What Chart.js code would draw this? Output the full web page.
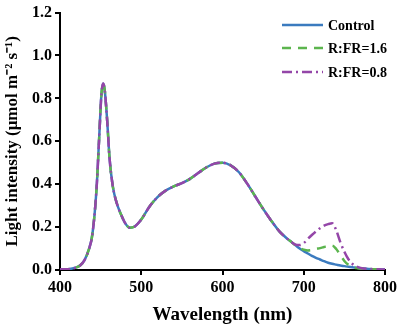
<!DOCTYPE html>
<html>
<head>
<meta charset="utf-8">
<script src="https://cdn.jsdelivr.net/npm/chart.js@4.4.1/dist/chart.umd.min.js"></script>
<style>
html,body{margin:0;padding:0;background:#fff;}
#wrap{width:400px;height:327px;position:relative;}
</style>
</head>
<body>
<div id="wrap"><canvas id="c" width="400" height="327"></canvas></div>
<script>
const wavelengths = [400,410,420,425,430,435,440,445,448,451,453,455,458,461,465,470,475,480,486,492,500,510,520,530,540,550,560,570,580,590,600,610,620,630,640,650,660,670,680,685,690,695,700,705,710,715,720,725,730,735,740,745,750,755,760,765,770,780,790,800];
const control = [0.003,0.004,0.012,0.022,0.045,0.09,0.17,0.38,0.6,0.82,0.87,0.84,0.7,0.52,0.39,0.31,0.26,0.22,0.197,0.203,0.235,0.295,0.34,0.37,0.39,0.405,0.425,0.452,0.478,0.496,0.5,0.488,0.457,0.405,0.345,0.285,0.23,0.18,0.145,0.13,0.115,0.1,0.088,0.077,0.066,0.057,0.049,0.041,0.034,0.029,0.025,0.021,0.018,0.015,0.013,0.01,0.008,0.005,0.003,0.002];
const rfr16 = [0.003,0.004,0.012,0.022,0.045,0.09,0.17,0.38,0.6,0.82,0.87,0.84,0.7,0.52,0.39,0.31,0.26,0.22,0.197,0.203,0.235,0.295,0.34,0.37,0.39,0.405,0.425,0.452,0.478,0.496,0.5,0.488,0.457,0.405,0.345,0.285,0.23,0.18,0.145,0.13,0.115,0.103,0.095,0.091,0.093,0.098,0.102,0.107,0.112,0.114,0.098,0.07,0.042,0.024,0.014,0.009,0.006,0.005,0.003,0.002];
const rfr08 = [0.003,0.004,0.012,0.022,0.045,0.09,0.17,0.38,0.6,0.82,0.87,0.84,0.7,0.52,0.39,0.31,0.26,0.22,0.197,0.203,0.235,0.295,0.34,0.37,0.39,0.405,0.425,0.452,0.478,0.496,0.5,0.488,0.457,0.405,0.345,0.285,0.23,0.18,0.145,0.13,0.118,0.116,0.125,0.145,0.163,0.18,0.195,0.207,0.214,0.218,0.185,0.13,0.085,0.05,0.028,0.016,0.009,0.005,0.003,0.002];
const seriesNames = ['Control','R:FR=1.6','R:FR=0.8'];
const xTicks = [400,500,600,700,800];
const yTicks = [0.0,0.2,0.4,0.6,0.8,1.0,1.2];

const colors = ['#3b7bbf','#5cb54e','#9446a8'];
const dashes = [[],[9,7],[10,4,2,4]];
const serif = "'Liberation Serif','Times New Roman',serif";

function pts(arr){ return wavelengths.map((w,i)=>({x:w,y:arr[i]})); }

const legendPlugin = {
  id:'customLegend',
  afterDraw(chart){
    const ctx = chart.ctx;
    const rows = [25,48,72];
    ctx.save();
    seriesNames.forEach((name,i)=>{
      ctx.beginPath();
      ctx.strokeStyle = colors[i];
      ctx.lineWidth = 2.5;
      ctx.setLineDash(dashes[i]);
      ctx.moveTo(282,rows[i]);
      ctx.lineTo(323,rows[i]);
      ctx.stroke();
      ctx.setLineDash([]);
      ctx.fillStyle = '#000';
      ctx.font = "bold 14px " + serif;
      ctx.textAlign = 'left';
      ctx.textBaseline = 'middle';
      ctx.fillText(name, 328, rows[i]+1);
    });
    ctx.restore();
  }
};

new Chart(document.getElementById('c'), {
  type:'line',
  data:{
    datasets:[
      {label:seriesNames[0], data:pts(control), borderColor:colors[0], borderWidth:2.5, borderDash:dashes[0], pointRadius:0, tension:0.4, cubicInterpolationMode:'monotone', order:3},
      {label:seriesNames[1], data:pts(rfr16), borderColor:colors[1], borderWidth:2.5, borderDash:dashes[1], pointRadius:0, tension:0.4, cubicInterpolationMode:'monotone', order:2},
      {label:seriesNames[2], data:pts(rfr08), borderColor:colors[2], borderWidth:2.5, borderDash:dashes[2], pointRadius:0, tension:0.4, cubicInterpolationMode:'monotone', order:1}
    ]
  },
  options:{
    responsive:false,
    animation:false,
    layout:{padding:{top:8,right:15,left:0,bottom:0}},
    plugins:{legend:{display:false}, tooltip:{enabled:false}},
    scales:{
      x:{
        type:'linear', min:400, max:800,
        afterBuildTicks(s){ s.ticks = xTicks.map(v=>({value:v})); },
        afterFit(s){ s.height = 57; },
        border:{color:'#000', width:2},
        grid:{display:true, drawOnChartArea:false, drawTicks:true, tickLength:5, color:'#000', lineWidth:2},
        ticks:{color:'#000', font:{family:serif, size:16, weight:'bold'}, padding:3, maxRotation:0},
        title:{display:true, text:'Wavelength (nm)', color:'#000', font:{family:serif, size:19, weight:'bold'}, padding:{top:0,bottom:1}}
      },
      y:{
        type:'linear', min:0, max:1.2,
        afterBuildTicks(s){ s.ticks = yTicks.map(v=>({value:v})); },
        afterFit(s){ s.width = 60; },
        border:{color:'#000', width:2},
        grid:{display:true, drawOnChartArea:false, drawTicks:true, tickLength:5, color:'#000', lineWidth:2},
        ticks:{color:'#000', font:{family:serif, size:16, weight:'bold'}, padding:3, callback:v=>v.toFixed(1)},
        title:{display:true, text:'Light intensity (\u03bcmol m\u207b\u00b2 s\u207b\u00b9)', color:'#000', font:{family:serif, size:17, weight:'bold'}, padding:{top:2,bottom:0}}
      }
    }
  },
  plugins:[legendPlugin]
});
</script>
</body>
</html>
